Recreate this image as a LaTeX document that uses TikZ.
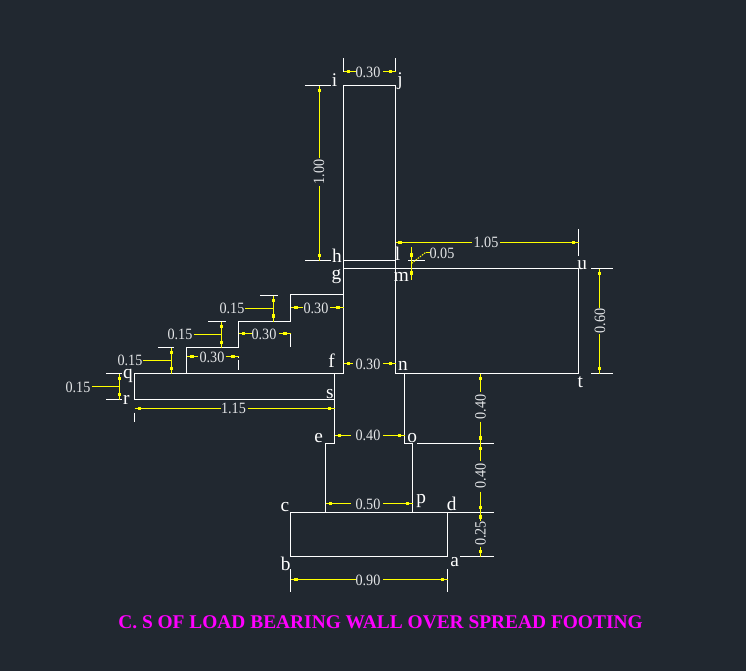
\documentclass[tikz,border=0pt]{standalone}
\usepackage{fontspec}
\setmainfont{Liberation Serif}
\newfontfamily\dimfont[FakeStretch=0.9]{Liberation Serif}
\definecolor{bgc}{HTML}{212830}
\definecolor{dimtxt}{HTML}{E4E6E8}
\definecolor{cadyellow}{HTML}{FFFF00}
\definecolor{cadmag}{HTML}{FF00FF}
\tikzset{
  obj/.style={draw=white,line width=0.75pt},
  ext/.style={draw=white,line width=0.75pt},
  dimln/.style={draw=cadyellow,line width=0.75pt},
  sq/.style={fill=cadyellow,inner sep=0pt,minimum size=2.9pt,rectangle},
  dimlbl/.style={text=dimtxt,inner sep=0pt,font=\dimfont\fontsize{11.8}{11.8}\selectfont},
  ltr/.style={text=white,inner sep=0pt,yshift=-1.1pt,font=\fontsize{14.5}{14.5}\selectfont},
  ttl/.style={text=cadmag,inner sep=0pt,font=\fontsize{14.55}{15}\selectfont\bfseries}
}
\begin{document}
\begin{tikzpicture}[x=0.75pt,y=-0.75pt]
\fill[bgc] (0,0) rectangle (746,671);
\useasboundingbox (0,0) rectangle (746,671);
% named outline points
\coordinate (ptI) at (343.5,85.5); \coordinate (ptJ) at (395.5,85.5);
\coordinate (ptH) at (343.5,260.5); \coordinate (ptL) at (395.5,260.5);
\coordinate (ptG) at (343.5,268.5); \coordinate (ptM) at (395.5,268.5);
\coordinate (ptU) at (578.5,268.5); \coordinate (ptT) at (578.5,373.5);
\coordinate (ptN) at (395.5,373.5); \coordinate (ptF) at (343.5,373.5);
\coordinate (ptQ) at (134.5,373.5); \coordinate (ptR) at (134.5,399.5);
\coordinate (ptS) at (334.5,399.5);
% wall
\draw[obj] (ptG) -- (ptI) -- (ptJ) -- (ptN);
\draw[obj] (ptH) -- (ptL);
\draw[obj] (ptG) -- (ptU) -- (ptT) -- (ptN);
% steps and slab
\draw[obj] (ptG) -- (ptF) -- (ptQ) -- (ptR) -- (ptS);
\draw[obj] (343.5,294.5) -- (290.5,294.5) -- (290.5,321.5) -- (238.5,321.5) -- (238.5,347.5) -- (186.5,347.5) -- (186.5,373.5);
% lower wall and footing
\draw[obj] (334.5,373.5) -- (334.5,443.5) -- (325.5,443.5) -- (325.5,512.5);
\draw[obj] (404.5,373.5) -- (404.5,443.5) -- (412.5,443.5) -- (412.5,512.5);
\draw[obj] (290.5,512.5) rectangle (447.5,556.5);
% extension lines
\draw[ext] (343.5,58) -- (343.5,72) (395.5,58) -- (395.5,72);
\draw[ext] (305,85.5) -- (331,85.5) (305,260.5) -- (331,260.5);
\draw[ext] (408,260.5) -- (425,260.5);
\draw[ext] (578.5,229) -- (578.5,255.7);
\draw[ext] (591,268.5) -- (612.7,268.5) (591,373.5) -- (612.7,373.5);
\draw[ext] (260,295.5) -- (277.7,295.5) (208,321.5) -- (225.7,321.5) (158,347.5) -- (174,347.5);
\draw[ext] (290.5,333.5) -- (290.5,346.7);
\draw[ext] (238.5,356.5) -- (238.5,357.5) (238.5,360) -- (238.5,369.7);
\draw[ext] (106,373.5) -- (121.7,373.5) (106,399.5) -- (121.7,399.5);
\draw[ext] (134.5,412.7) -- (134.5,421.7);
\draw[ext] (417,443.5) -- (494,443.5) (447.5,512.5) -- (494,512.5) (460,556.5) -- (494,556.5);
\draw[ext] (290.5,569) -- (290.5,592.3) (447.5,569) -- (447.5,592.3);
% horizontal dimension lines
\draw[dimln] (343.5,71.5) -- (356,71.5) (383,71.5) -- (395.5,71.5);
\draw[dimln] (395.5,242.5) -- (472,242.5) (500,242.5) -- (578.5,242.5);
\draw[dimln] (290.5,307.5) -- (302.7,307.5) (330,307.5) -- (343.5,307.5);
\draw[dimln] (238.5,333.5) -- (252,333.5) (279,333.5) -- (290.5,333.5);
\draw[dimln] (186.5,356.5) -- (198,356.5) (225.7,356.5) -- (238.5,356.5);
\draw[dimln] (343.5,363.5) -- (353,363.5) (383.3,363.5) -- (395.5,363.5);
\draw[dimln] (134.5,408.5) -- (220.7,408.5) (247.7,408.5) -- (334.5,408.5);
\draw[dimln] (334.5,435.5) -- (351,435.5) (383.3,435.5) -- (404.5,435.5);
\draw[dimln] (325.5,503.5) -- (351,503.5) (383.3,503.5) -- (412.5,503.5);
\draw[dimln] (290.5,579.5) -- (356,579.5) (383.3,579.5) -- (447.5,579.5);
% vertical dimension lines
\draw[dimln] (319.5,85.5) -- (319.5,158) (319.5,186) -- (319.5,260.5);
\draw[dimln] (411.5,247) -- (411.5,280);
\draw[dimln] (599.5,268.5) -- (599.5,307.7) (599.5,334.3) -- (599.5,373.5);
\draw[dimln] (480.5,373.5) -- (480.5,391.7) (480.5,421.7) -- (480.5,461) (480.5,491.7) -- (480.5,521) (480.5,546.7) -- (480.5,556.5);
\draw[dimln] (273.5,295.5) -- (273.5,321.5);
\draw[dimln] (221.5,321.5) -- (221.5,347.5);
\draw[dimln] (171.5,347.5) -- (171.5,373.5);
\draw[dimln] (119.5,373.5) -- (119.5,399.5);
% leaders
\draw[dimln] (245,308.5) -- (273.5,308.5);
\draw[dimln] (194,334.5) -- (221.5,334.5);
\draw[dimln] (143,360.5) -- (171.5,360.5);
\draw[dimln] (92,386.5) -- (119.5,386.5);
\draw[dimln,dash pattern=on 1.2pt off 0.8pt] (411.5,263.5) -- (425.5,252.5);
\draw[dimln] (425.5,252.5) -- (430,252.5);
% terminator squares
\foreach \px/\py in {348.5/71.5,390.5/71.5,400/242.5,573.5/242.5,319.5/90.5,319.5/255.5,
  411.5/255,411.5/273,599.5/273.5,599.5/368.5,296/307.5,338/307.5,243.5/333.5,285/333.5,
  191.7/356.5,233/356.5,273.5/300.5,273.5/316,221.5/326.5,221.5/342.5,171.5/352.5,171.5/368.5,
  119.5/378.5,119.5/394.5,139.5/408.5,329.5/408.5,348.5/363.5,390.5/363.5,339.5/435.5,399.5/435.5,
  330.5/503.5,407.5/503.5,296/579.5,442.5/579.5,480.5/378.5,480.5/438,480.5/448.5,480.5/507.5,480.5/517,480.5/551.5}
  \node[sq] at (\px,\py) {};
% dimension texts
\node[dimlbl] (d1) at (368,72.5) {0.30};
\node[dimlbl,rotate=90] (d2) at (319,172) {1.00};
\node[dimlbl] (d3) at (486,242.8) {1.05};
\node[dimlbl] (d4) at (442,253.5) {0.05};
\node[dimlbl,rotate=90] (d5) at (600,321) {0.60};
\node[dimlbl] (d6) at (232,308.5) {0.15};
\node[dimlbl] (d7) at (316,308) {0.30};
\node[dimlbl] (d8) at (180,334.5) {0.15};
\node[dimlbl] (d9) at (264,334) {0.30};
\node[dimlbl] (d10) at (130,360.5) {0.15};
\node[dimlbl] (d11) at (212,357) {0.30};
\node[dimlbl] (d12) at (78,387) {0.15};
\node[dimlbl] (d13) at (368,364) {0.30};
\node[dimlbl] (d14) at (233.5,408.5) {1.15};
\node[dimlbl] (d15) at (368,435.5) {0.40};
\node[dimlbl,rotate=90] (d16) at (480.5,407) {0.40};
\node[dimlbl,rotate=90] (d17) at (480.5,476) {0.40};
\node[dimlbl,rotate=90] (d18) at (480.5,533.5) {0.25};
\node[dimlbl] (d19) at (368,504) {0.50};
\node[dimlbl] (d20) at (368,580) {0.90};
% point letters
\node[ltr] (la) at (454.7,561) {a};
\node[ltr] (lb) at (285.7,562) {b};
\node[ltr] (lc) at (285,506) {c};
\node[ltr] (ld) at (451.7,502.5) {d};
\node[ltr] (le) at (318.7,437) {e};
\node[ltr] (lf) at (331.7,359) {f};
\node[ltr] (lg) at (336.5,275) {g};
\node[ltr] (lh) at (337,254) {h};
\node[ltr] (li) at (334.5,78.5) {i};
\node[ltr] (lj) at (400,80) {j};
\node[ltr] (ll) at (397.5,252) {l};
\node[ltr] (lm) at (401.5,275) {m};
\node[ltr] (ln) at (403,364) {n};
\node[ltr] (lo) at (412.3,437) {o};
\node[ltr] (lp) at (421.3,499.5) {p};
\node[ltr] (lq) at (128,374) {q};
\node[ltr] (lr) at (126.3,398) {r};
\node[ltr] (ls) at (330,392.5) {s};
\node[ltr] (lt) at (580.3,380.5) {t};
\node[ltr] (lu) at (582.3,264) {u};
% title
\node[ttl] (title) at (380.5,622) {C. S OF LOAD BEARING WALL OVER SPREAD FOOTING};
\end{tikzpicture}
\end{document}
